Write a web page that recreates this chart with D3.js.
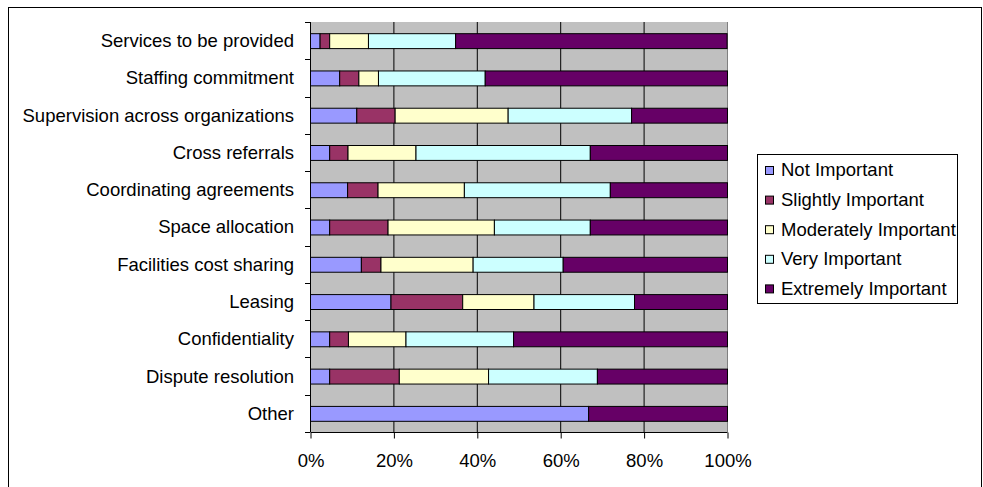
<!DOCTYPE html>
<html>
<head>
<meta charset="utf-8">
<script src="https://cdn.jsdelivr.net/npm/d3@7"></script>
<style>
  html, body { margin: 0; padding: 0; background: #fff; }
  svg { display: block; font-family: "Liberation Sans", Arial, sans-serif; }
</style>
</head>
<body>
<svg id="chart" width="983" height="487"></svg>
<script>
// Survey items, top to bottom
const categories = [
  "Services to be provided",
  "Staffing commitment",
  "Supervision across organizations",
  "Cross referrals",
  "Coordinating agreements",
  "Space allocation",
  "Facilities cost sharing",
  "Leasing",
  "Confidentiality",
  "Dispute resolution",
  "Other"
];

// Share of responses (%) per importance level, in category order
const notImportant        = [2.3, 7.0, 11.1, 4.6, 8.9, 4.6, 12.2, 19.3, 4.6, 4.6, 66.7];
const slightlyImportant   = [2.3, 4.6, 9.2, 4.4, 7.3, 14.0, 4.7, 17.2, 4.5, 16.7, 0];
const moderatelyImportant = [9.3, 4.7, 27.1, 16.3, 20.7, 25.5, 22.1, 17.1, 13.8, 21.4, 0];
const veryImportant       = [20.9, 25.6, 29.6, 41.8, 35.0, 23.0, 21.6, 24.1, 25.8, 26.1, 0];
const extremelyImportant  = [65.1, 58.1, 23.0, 32.9, 28.1, 32.9, 39.4, 22.3, 51.3, 31.2, 33.3];

const seriesNames = ["Not Important", "Slightly Important", "Moderately Important", "Very Important", "Extremely Important"];
const seriesColors = ["#9999ff", "#993366", "#ffffcc", "#ccffff", "#660066"];
const tickValues = [0, 20, 40, 60, 80, 100];

const seriesValues = [notImportant, slightlyImportant, moderatelyImportant, veryImportant, extremelyImportant];
const rows = categories.map((c, i) => {
  const r = { category: c };
  seriesNames.forEach((s, j) => { r[s] = seriesValues[j][i]; });
  return r;
});

const FONT = 18.5;
const svg = d3.select("#chart");

// Outer frame
svg.append("rect")
  .attr("x", 8.5).attr("y", 7.5)
  .attr("width", 973).attr("height", 490)
  .attr("fill", "#fff").attr("stroke", "#000").attr("stroke-width", 1);

const plot = { left: 310, top: 22, right: 727, bottom: 432 };

const x = d3.scaleLinear().domain([0, 100]).range([plot.left, plot.right]);
const yBand = d3.scaleBand().domain(categories).range([plot.top, plot.bottom]).paddingInner(0).paddingOuter(0);
const barH = yBand.bandwidth() / 2.5;

// Plot background
svg.append("rect")
  .attr("x", plot.left).attr("y", plot.top)
  .attr("width", plot.right - plot.left).attr("height", plot.bottom - plot.top)
  .attr("fill", "#c0c0c0");

// Vertical gridlines
svg.append("g").selectAll("line")
  .data(tickValues.slice(1, -1))
  .join("line")
  .attr("x1", d => x(d) + 0.5).attr("x2", d => x(d) + 0.5)
  .attr("y1", plot.top).attr("y2", plot.bottom)
  .attr("stroke", "#000").attr("stroke-width", 1);

// Right edge of the plot area in gray
svg.append("line")
  .attr("x1", plot.right + 0.5).attr("x2", plot.right + 0.5)
  .attr("y1", plot.top).attr("y2", plot.bottom)
  .attr("stroke", "#808080");

// Stacked bars
const stacked = d3.stack().keys(seriesNames)(rows);
svg.append("g").selectAll("g")
  .data(stacked)
  .join("g")
  .attr("fill", (d, i) => seriesColors[i])
  .selectAll("rect")
  .data(d => d.filter(p => p[1] - p[0] > 0))
  .join("rect")
  .attr("x", d => x(d[0]) + 0.5)
  .attr("y", d => yBand(d.data.category) + (yBand.bandwidth() - barH) / 2 + 0.5)
  .attr("width", d => x(d[1]) - x(d[0]))
  .attr("height", barH)
  .attr("stroke", "#000").attr("stroke-width", 1);

// Y axis: category labels with ticks at band boundaries
const yAxisG = svg.append("g");
yAxisG.append("line")
  .attr("x1", plot.left + 0.5).attr("x2", plot.left + 0.5)
  .attr("y1", plot.top).attr("y2", plot.bottom)
  .attr("stroke", "#000");
const boundaries = categories.map(c => yBand(c)).concat([plot.bottom]);
yAxisG.selectAll("line.tick")
  .data(boundaries)
  .join("line")
  .attr("class", "tick")
  .attr("x1", plot.left - 5).attr("x2", plot.left)
  .attr("y1", d => Math.round(d) + 0.5).attr("y2", d => Math.round(d) + 0.5)
  .attr("stroke", "#000");
yAxisG.selectAll("text")
  .data(categories)
  .join("text")
  .attr("x", plot.left - 16)
  .attr("y", d => yBand(d) + yBand.bandwidth() / 2)
  .attr("dy", "0.35em")
  .attr("text-anchor", "end")
  .attr("font-size", FONT)
  .attr("fill", "#000")
  .text(d => d);

// X axis
const xAxis = d3.axisBottom(x)
  .tickValues(tickValues)
  .tickFormat(d => d + "%")
  .tickSize(6)
  .tickPadding(15);
const xAxisG = svg.append("g")
  .attr("transform", `translate(0.5,${plot.bottom + 0.5})`)
  .call(xAxis);
xAxisG.select(".domain").attr("d", `M${plot.left},0H${plot.right}`).attr("stroke", "#000");
xAxisG.selectAll(".tick line").attr("stroke", "#000");
xAxisG.selectAll("text")
  .attr("font-size", FONT)
  .attr("font-family", "'Liberation Sans', Arial, sans-serif")
  .attr("fill", "#000");

// Legend
const legend = { x: 757, y: 154, w: 200, h: 149 };
svg.append("rect")
  .attr("x", legend.x + 0.5).attr("y", legend.y + 0.5)
  .attr("width", legend.w).attr("height", legend.h)
  .attr("fill", "#fff").attr("stroke", "#000");
const rowStep = 29.6;
const items = svg.append("g").selectAll("g")
  .data(seriesNames)
  .join("g")
  .attr("transform", (d, i) => `translate(${legend.x + 8},${legend.y + 16 + i * rowStep})`);
items.append("rect")
  .attr("x", 0.5).attr("y", -3.5)
  .attr("width", 8).attr("height", 8)
  .attr("fill", (d, i) => seriesColors[i])
  .attr("stroke", "#000");
items.append("text")
  .attr("x", 16)
  .attr("y", 0)
  .attr("dy", "0.35em")
  .attr("font-size", FONT)
  .attr("fill", "#000")
  .text(d => d);
</script>
</body>
</html>
